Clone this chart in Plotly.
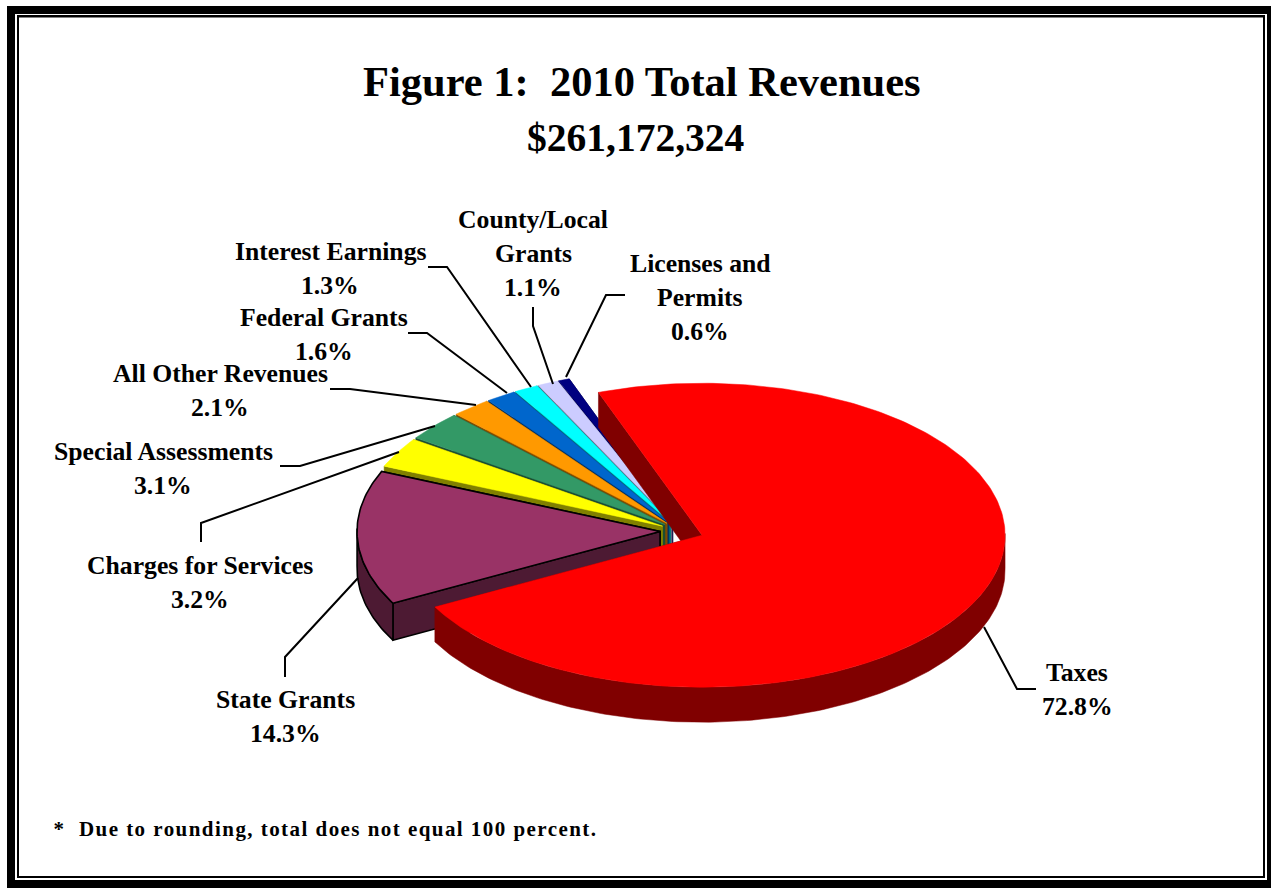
import math
import plotly.graph_objects as go

# ---- data ----
categories = ["Taxes", "State Grants", "Charges for Services", "Special Assessments",
              "All Other Revenues", "Federal Grants", "Interest Earnings",
              "County/Local Grants", "Licenses and Permits"]
values = [72.8, 14.3, 3.2, 3.1, 2.1, 1.6, 1.3, 1.1, 0.6]
title_text = "Figure 1:  2010 Total Revenues"
subtitle_text = "$261,172,324"
footnote_text = "*  Due to rounding, total does not equal 100 percent."

# ---- style ----
face_colors = ["#FF0000", "#993366", "#FFFF00", "#339966", "#FF9900", "#0066CC", "#00FFFF", "#CCCCFF", "#000080"]
wall_colors = ["#800000", "#4D1A33", "#808000", "#1A4D33", "#804D00", "#003366", "#008080", "#666680", "#000040"]
explosions = [0.078, 0.066, 0.066, 0.066, 0.066, 0.066, 0.066, 0.066, 0.066]
depths = [35, 37, 37, 37, 37, 37, 37, 37, 37]
CX, CY, RX, RY = 680, 531, 303, 152
START = -20.0
FONT = "Liberation Serif"

# label layout: per category (text lines, centre x, first line y)
label_lines = [["Taxes"], ["State Grants"], ["Charges for Services"], ["Special Assessments"],
               ["All Other Revenues"], ["Federal Grants"], ["Interest Earnings"],
               ["County/Local", "Grants"], ["Licenses and", "Permits"]]
label_x = [1077, 285, 200, 163, 220, 324, 330, 533, 700]
label_y = [672, 699, 565, 451, 373, 317, 251, 219, 263]
leaders = [
    [(984, 627), (1017, 689), (1036, 689)],
    [(358, 578), (285, 657), (285, 677)],
    [(201, 542), (201, 523), (399, 452)],
    [(280, 466), (300, 466), (435, 426)],
    [(330, 389), (350, 389), (476, 405)],
    [(408, 333), (427, 333), (507, 393)],
    [(428, 267), (447, 267), (531, 387)],
    [(533, 307), (533, 326), (553, 384)],
    [(625, 295), (606, 295), (566, 377)],
]

fig = go.Figure()


def pt(cx, cy, a):
    r = math.radians(a)
    return cx + RX * math.sin(r), cy - RY * math.cos(r)


total = sum(values)
spans = []
a0 = START
for v in values:
    a1 = a0 + v / total * 360
    spans.append((a0, a1))
    a0 = a1


def poly(xs, ys, fill, outline=None):
    fig.add_trace(go.Scatter(x=xs + xs[:1], y=ys + ys[:1], mode="lines", fill="toself", fillcolor=fill,
                             line=dict(color=outline or fill, width=1.6 if outline else 0.5),
                             hoverinfo="skip", showlegend=False))


# back to front: smallest slices first, then state grants, then taxes
order = [8, 7, 6, 5, 4, 3, 2, 1, 0]
for i in order:
    a0, a1 = spans[i]
    mid = math.radians((a0 + a1) / 2)
    cx = CX + explosions[i] * RX * math.sin(mid)
    cy = CY - explosions[i] * RY * math.cos(mid)
    d = depths[i]
    n = max(2, int(a1 - a0))
    angles = [a0 + (a1 - a0) * k / n for k in range(n + 1)]
    arc = [pt(cx, cy, a) for a in angles]
    outline = "#000000" if i == 1 else None
    sx, sy = arc[0]
    ex, ey = arc[-1]
    # radial walls: the far one first
    poly([ex, ex, cx, cx], [ey, ey + d, cy + d, cy], wall_colors[i], outline)
    poly([sx, sx, cx, cx], [sy, sy + d, cy + d, cy], wall_colors[i], outline)
    # rim wall, only where the arc faces the viewer
    front = [p for p, a in zip(arc, angles) if math.cos(math.radians(a)) <= 0.02]
    if len(front) > 1:
        xs = [p[0] for p in front]
        ys = [p[1] for p in front]
        poly(xs + xs[::-1], ys + [y + d for y in ys[::-1]], wall_colors[i], outline)
    # top face
    poly([cx] + [p[0] for p in arc], [cy] + [p[1] for p in arc], face_colors[i], outline)

for path in leaders:
    fig.add_trace(go.Scatter(x=[p[0] for p in path], y=[p[1] for p in path], mode="lines",
                             line=dict(color="#000000", width=2), hoverinfo="skip", showlegend=False))

ann = []


def text(s, x, y, size, anchor="center"):
    ann.append(dict(text="<b>%s</b>" % s, x=x, y=y, xref="x", yref="y", xanchor=anchor, yanchor="middle",
                    showarrow=False, font=dict(family=FONT, size=size, color="#000000")))


text(title_text, 642, 81, 42.5)
text(subtitle_text, 636, 138, 39.5)
STEP = 34
for lines, v, x, y in zip(label_lines, values, label_x, label_y):
    for k, s in enumerate(lines + ["%.1f%%" % v]):
        text(s, x, y + k * STEP, 25.7)
text(footnote_text, 325.5, 829, 21)

border = [(7, 6, 1271, 888, "#000000"), (15, 14, 1267, 880, "#FFFFFF"),
          (17, 15, 1265, 878, "#000000"), (19, 17.5, 1263, 876, "#FFFFFF")]
shapes = [dict(type="rect", x0=a, y0=b, x1=c, y1=e, xref="x", yref="y", fillcolor=col,
               line=dict(width=0), layer="below") for a, b, c, e, col in border]

fig.update_layout(
    width=1271, height=890, margin=dict(l=0, r=0, t=0, b=0),
    paper_bgcolor="#FFFFFF", plot_bgcolor="#FFFFFF",
    xaxis=dict(range=[0, 1271], visible=False, fixedrange=True),
    yaxis=dict(range=[890, 0], visible=False, fixedrange=True),
    shapes=shapes, annotations=ann, showlegend=False,
)
post = """
document.body.style.margin='0';
document.documentElement.style.overflow='hidden';
document.querySelectorAll('.annotation-text').forEach(function(t){
  if (t.textContent.indexOf('Due to rounding') >= 0) { t.style.letterSpacing = '1.45px'; }
});
"""
fig.write_html("out.html", config={"displayModeBar": False}, post_script=post)
